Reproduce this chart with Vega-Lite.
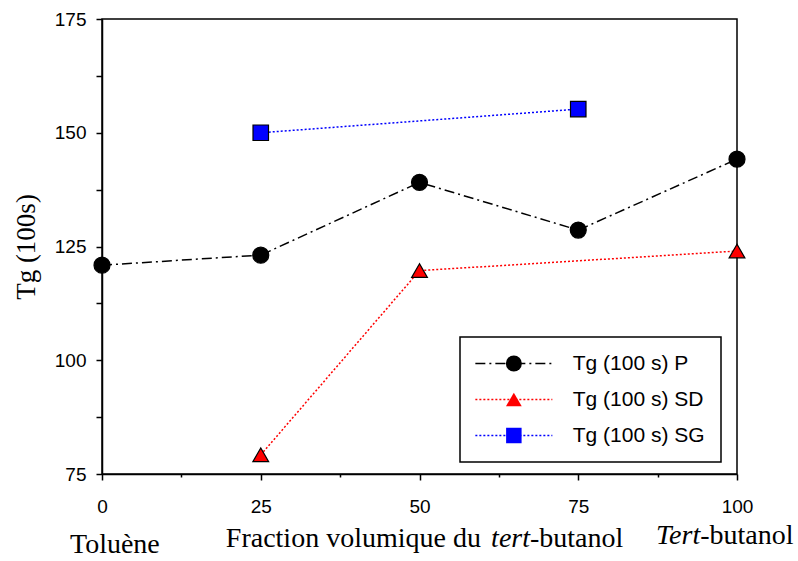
{
  "$schema": "https://vega.github.io/schema/vega-lite/v6.json",
  "width": 635,
  "height": 455,
  "autosize": {"type": "none"},
  "padding": {"left": 102, "top": 19, "right": 61, "bottom": 87},
  "background": "white",
  "config": {
    "view": {"stroke": "black", "strokeWidth": 1.5},
    "axis": {
      "domainColor": "black", "domainWidth": 1.5,
      "tickColor": "black", "tickWidth": 1.5,
      "labelFont": "Liberation Sans", "labelFontSize": 19, "labelColor": "black",
      "grid": false,
      "titleFont": "Liberation Serif", "titleFontWeight": "normal", "titleColor": "black", "titleFontSize": 27
    },
    "legend": {"strokeWidth": 1.5}
  },
  "data": {"values": [
    {"x": 0, "tg": 120.9, "series": "Tg (100 s) P"},
    {"x": 25, "tg": 123.1, "series": "Tg (100 s) P"},
    {"x": 50, "tg": 139.1, "series": "Tg (100 s) P"},
    {"x": 75, "tg": 128.6, "series": "Tg (100 s) P"},
    {"x": 100, "tg": 144.2, "series": "Tg (100 s) P"},
    {"x": 25, "tg": 79.2, "series": "Tg (100 s) SD"},
    {"x": 50, "tg": 119.7, "series": "Tg (100 s) SD"},
    {"x": 100, "tg": 124.0, "series": "Tg (100 s) SD"},
    {"x": 25, "tg": 150.0, "series": "Tg (100 s) SG"},
    {"x": 75, "tg": 155.2, "series": "Tg (100 s) SG"}
  ]},
  "layer": [
    {
      "mark": {"type": "line", "strokeWidth": 1.5},
      "encoding": {
        "x": {"field": "x", "type": "quantitative",
          "scale": {"domain": [0, 100], "nice": false, "zero": false},
          "axis": {"values": [0, 12.5, 25, 37.5, 50, 62.5, 75, 87.5, 100],
            "labelExpr": "datum.value % 25 == 0 ? datum.label : ''",
            "tickSize": {"condition": {"test": "datum.value % 25 != 0", "value": 3}, "value": 6},
            "labelPadding": 17, "title": null, "labelFlush": false, "labelOverlap": false}},
        "y": {"field": "tg", "type": "quantitative",
          "scale": {"domain": [75, 175], "nice": false, "zero": false},
          "axis": {"values": [75, 87.5, 100, 112.5, 125, 137.5, 150, 162.5, 175],
            "labelExpr": "datum.value % 25 == 0 ? datum.label : ''",
            "tickSize": 6, "labelPadding": 10, "title": "Tg (100s)", "titlePadding": 14,
            "labelFlush": false, "labelOverlap": false}},
        "stroke": {"field": "series", "type": "nominal",
          "scale": {"domain": ["Tg (100 s) P", "Tg (100 s) SD", "Tg (100 s) SG"], "range": ["black", "red", "blue"]},
          "legend": {"orient": "none", "legendX": 358, "legendY": 318, "title": null,
            "strokeColor": "black", "fillColor": "white", "padding": 16,
            "symbolType": "M-5.133,0H5.133", "symbolSize": 225, "symbolStrokeWidth": 1.3, "symbolOffset": 27.35,
            "labelFont": "Liberation Sans", "labelFontSize": 21, "labelColor": "black",
            "labelOffset": 48.35, "rowPadding": 14, "zindex": 0}},
        "strokeDash": {"field": "series", "type": "nominal",
          "scale": {"domain": ["Tg (100 s) P", "Tg (100 s) SD", "Tg (100 s) SG"], "range": [[10, 4, 2, 4], [2, 2], [2, 2]]},
          "legend": {"orient": "none", "legendX": 358, "legendY": 318, "title": null,
            "strokeColor": "black", "fillColor": "white", "padding": 16,
            "symbolType": "M-5.133,0H5.133", "symbolSize": 225, "symbolStrokeWidth": 1.3, "symbolOffset": 27.35,
            "labelFont": "Liberation Sans", "labelFontSize": 21, "labelColor": "black",
            "labelOffset": 48.35, "rowPadding": 14, "zindex": 0}}
      }
    },
    {
      "mark": {"type": "point", "filled": true, "stroke": "black", "strokeWidth": 1.2, "opacity": 1},
      "encoding": {
        "x": {"field": "x", "type": "quantitative"},
        "y": {"field": "tg", "type": "quantitative"},
        "fill": {"field": "series", "type": "nominal",
          "scale": {"range": ["black", "red", "blue"]},
          "legend": {"orient": "none", "legendX": 358, "legendY": 318, "title": null, "padding": 16,
            "symbolOffset": 27.35, "symbolStrokeColor": "black", "symbolStrokeWidth": 1.2,
            "labelFont": "Liberation Sans", "labelFontSize": 21, "labelExpr": "''",
            "labelOffset": 48.35, "rowPadding": 14, "zindex": 1}},
        "shape": {"field": "series", "type": "nominal",
          "scale": {"range": ["circle", "triangle-up", "square"]},
          "legend": {"orient": "none", "legendX": 358, "legendY": 318, "title": null, "padding": 16,
            "symbolOffset": 27.35, "symbolStrokeColor": "black", "symbolStrokeWidth": 1.2,
            "labelFont": "Liberation Sans", "labelFontSize": 21, "labelExpr": "''",
            "labelOffset": 48.35, "rowPadding": 14, "zindex": 1}},
        "size": {"field": "series", "type": "nominal",
          "scale": {"range": [256, 240, 185]},
          "legend": {"orient": "none", "legendX": 358, "legendY": 318, "title": null, "padding": 16,
            "symbolOffset": 27.35, "symbolStrokeColor": "black", "symbolStrokeWidth": 1.2,
            "labelFont": "Liberation Sans", "labelFontSize": 21, "labelExpr": "''",
            "labelOffset": 48.35, "rowPadding": 14, "zindex": 1}}
      }
    },
    {
      "data": {"values": [{}]},
      "mark": {"type": "text", "font": "Liberation Serif", "fontSize": 28, "align": "left", "baseline": "alphabetic", "color": "black"},
      "encoding": {"x": {"datum": 19.5, "type": "quantitative"}, "y": {"datum": 58.96, "type": "quantitative"}, "text": {"value": "Fraction volumique du"}}
    },
    {
      "data": {"values": [{}]},
      "mark": {"type": "text", "font": "Liberation Serif", "fontSize": 28, "fontStyle": "italic", "align": "right", "baseline": "alphabetic", "color": "black"},
      "encoding": {"x": {"datum": 67.4, "type": "quantitative"}, "y": {"datum": 58.96, "type": "quantitative"}, "text": {"value": "tert"}}
    },
    {
      "data": {"values": [{}]},
      "mark": {"type": "text", "font": "Liberation Serif", "fontSize": 28, "align": "left", "baseline": "alphabetic", "color": "black"},
      "encoding": {"x": {"datum": 67.4, "type": "quantitative"}, "y": {"datum": 58.96, "type": "quantitative"}, "text": {"value": "-butanol"}}
    },
    {
      "data": {"values": [{}]},
      "mark": {"type": "text", "font": "Liberation Serif", "fontSize": 28, "align": "left", "baseline": "alphabetic", "color": "black"},
      "encoding": {"x": {"datum": -5.04, "type": "quantitative"}, "y": {"datum": 57.64, "type": "quantitative"}, "text": {"value": "Toluène"}}
    },
    {
      "data": {"values": [{}]},
      "mark": {"type": "text", "font": "Liberation Serif", "fontSize": 28, "fontStyle": "italic", "align": "right", "baseline": "alphabetic", "color": "black"},
      "encoding": {"x": {"datum": 94.2, "type": "quantitative"}, "y": {"datum": 59.6, "type": "quantitative"}, "text": {"value": "Tert"}}
    },
    {
      "data": {"values": [{}]},
      "mark": {"type": "text", "font": "Liberation Serif", "fontSize": 28, "align": "left", "baseline": "alphabetic", "color": "black"},
      "encoding": {"x": {"datum": 94.2, "type": "quantitative"}, "y": {"datum": 59.6, "type": "quantitative"}, "text": {"value": "-butanol"}}
    }
  ]
}
